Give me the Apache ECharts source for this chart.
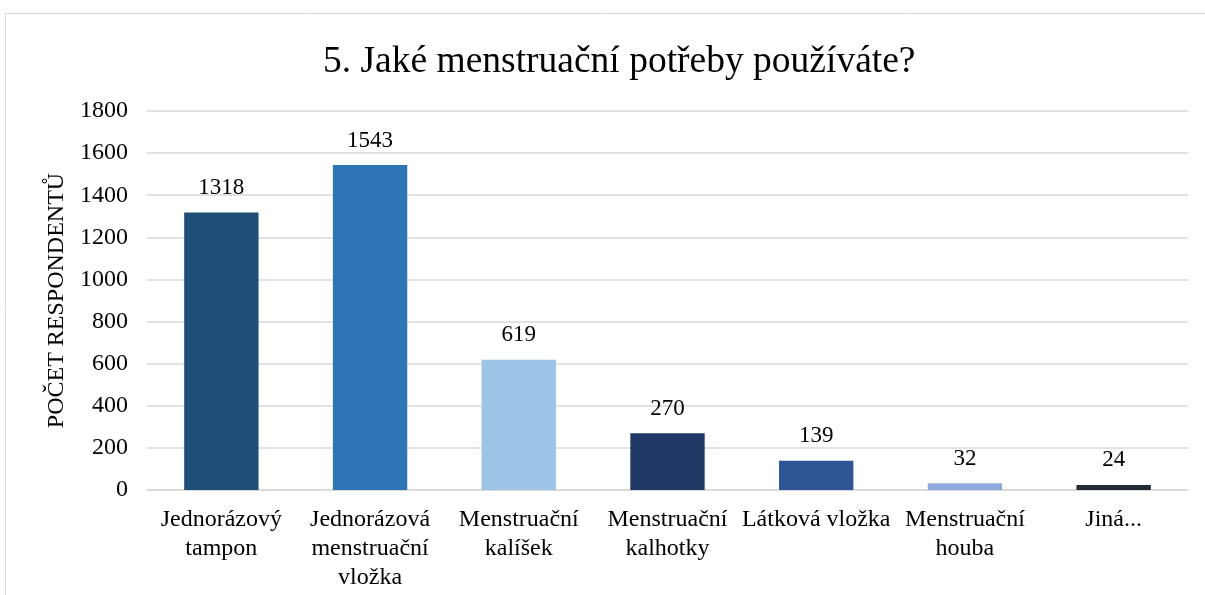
<!DOCTYPE html>
<html><head><meta charset="utf-8">
<script src="https://cdn.jsdelivr.net/npm/echarts@6/dist/echarts.min.js"></script>
<style>html,body{margin:0;padding:0;background:#fff}#c{width:1205px;height:595px}</style>
</head><body><div id="c"></div>
<script>
const categories = ["Jednorázový\ntampon", "Jednorázová\nmenstruační\nvložka", "Menstruační\nkalíšek", "Menstruační\nkalhotky", "Látková vložka", "Menstruační\nhouba", "Jiná..."];
const values = [1318, 1543, 619, 270, 139, 32, 24];
const barColors = ["#1f4e79", "#2e75b6", "#9dc3e6", "#203864", "#2f5597", "#8faadc", "#222a35"];
const titleText = "5. Jaké menstruační potřeby používáte?";
const yAxisName = "POČET RESPONDENTŮ";

const font = "'Liberation Serif', 'Times New Roman', serif";
const chart = echarts.init(document.getElementById('c'), null, {renderer: 'canvas'});
chart.setOption({
  animation: false,
  backgroundColor: '#fff',
  graphic: [{type: 'rect', shape: {x: 5.5, y: 13.5, width: 1230, height: 700}, style: {fill: 'none', stroke: '#d9d9d9', lineWidth: 1}}],
  title: {text: titleText, left: 318, top: 38, textStyle: {fontFamily: font, fontSize: 37.5, fontWeight: 'normal', color: '#000'}},
  grid: {left: 147, right: 17, top: 111, bottom: 105},
  xAxis: {
    type: 'category', data: categories,
    axisTick: {show: false},
    axisLine: {lineStyle: {color: '#d9d9d9', width: 1.5}},
    axisLabel: {interval: 0, color: '#000', fontFamily: font, fontSize: 24, lineHeight: 29, margin: 15}
  },
  yAxis: {
    type: 'value', min: 0, max: 1800, interval: 200,
    name: yAxisName, nameLocation: 'middle', nameGap: 76,
    nameTextStyle: {fontFamily: font, fontSize: 24, color: '#000'},
    axisLine: {show: false}, axisTick: {show: false},
    axisLabel: {color: '#000', fontFamily: font, fontSize: 24, margin: 19, formatter: v => String(v)},
    splitLine: {lineStyle: {color: '#d9d9d9', width: 1.5}}
  },
  series: [{
    type: 'bar', barWidth: '50%',
    data: values.map((v, i) => ({value: v, itemStyle: {color: barColors[i]}})),
    label: {show: true, position: 'top', distance: 13, color: '#000', fontFamily: font, fontSize: 23}
  }]
});
</script></body></html>
